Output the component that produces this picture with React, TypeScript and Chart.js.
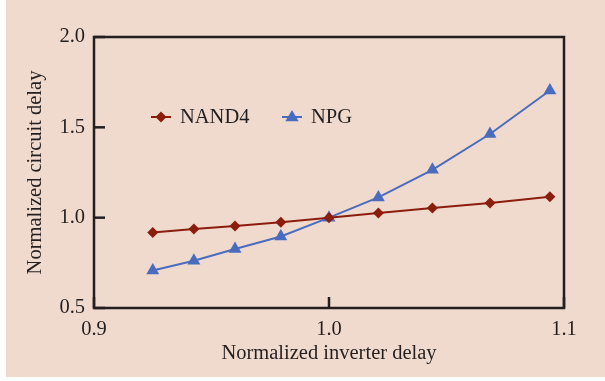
import React, { useEffect, useRef } from "react";
import { Chart, registerables } from "chart.js";

Chart.register(...registerables);

// Normalized inverter delay (x) for each simulated corner
const inverterDelay = [0.925, 0.9425, 0.96, 0.9795, 1.0, 1.021, 1.044, 1.0685, 1.094];
// Normalized circuit delay per gate style
const nand4Delay = [0.918, 0.937, 0.954, 0.974, 1.0, 1.026, 1.053, 1.081, 1.116];
const npgDelay = [0.708, 0.762, 0.827, 0.896, 1.0, 1.112, 1.265, 1.463, 1.704];

const xTicks = [0.9, 1.0, 1.1];
const yTicks = [0.5, 1.0, 1.5, 2.0];

const seriesNames = ["NAND4", "NPG"];
const NAND_COLOR = "#8b1d0d";
const NPG_COLOR = "#4a6cbf";
const INK = "#231f20";
const FONT = "'Liberation Serif', 'Times New Roman', serif";

// Diamond / triangle markers drawn by hand for the in-plot legend
function drawMarker(ctx: CanvasRenderingContext2D, style: string, x: number, y: number, color: string) {
  ctx.save();
  ctx.fillStyle = color;
  ctx.beginPath();
  if (style === "rectRot") {
    const r = 5.5;
    ctx.moveTo(x, y - r);
    ctx.lineTo(x + r, y);
    ctx.lineTo(x, y + r);
    ctx.lineTo(x - r, y);
  } else {
    const r = 7;
    ctx.moveTo(x, y - r);
    ctx.lineTo(x + r * 0.95, y + r * 0.6);
    ctx.lineTo(x - r * 0.95, y + r * 0.6);
  }
  ctx.closePath();
  ctx.fill();
  ctx.restore();
}

const framePlugin = {
  id: "frameAndLegend",
  afterDatasetsDraw(chart: any) {
    const { ctx, chartArea, scales } = chart;
    const { left, right, top, bottom } = chartArea;
    ctx.save();
    // inward tick marks
    ctx.strokeStyle = INK;
    ctx.lineWidth = 2.5;
    yTicks.forEach((v) => {
      const y = scales.y.getPixelForValue(v);
      ctx.beginPath();
      ctx.moveTo(left, y);
      ctx.lineTo(left + 11, y);
      ctx.stroke();
    });
    xTicks.forEach((v) => {
      const x = scales.x.getPixelForValue(v);
      ctx.beginPath();
      ctx.moveTo(x, bottom);
      ctx.lineTo(x, bottom - 11);
      ctx.stroke();
    });
    // box frame
    ctx.lineWidth = 2.5;
    ctx.strokeRect(left, top, right - left, bottom - top);

    // legend inside plot
    const items = [
      { name: seriesNames[0], color: NAND_COLOR, style: "rectRot", x: left + 67 },
      { name: seriesNames[1], color: NPG_COLOR, style: "triangle", x: left + 198 },
    ];
    const ly = top + 80;
    ctx.font = `20.5px ${FONT}`;
    ctx.textBaseline = "middle";
    ctx.textAlign = "left";
    items.forEach((it) => {
      ctx.strokeStyle = it.color;
      ctx.lineWidth = 2;
      ctx.beginPath();
      ctx.moveTo(it.x - 10, ly);
      ctx.lineTo(it.x + 10, ly);
      ctx.stroke();
      drawMarker(ctx, it.style, it.x, ly, it.color);
      ctx.fillStyle = INK;
      ctx.fillText(it.name, it.x + 19, ly + 1);
    });
    ctx.restore();
  },
};

export default function App() {
  const canvasRef = useRef<HTMLCanvasElement | null>(null);

  useEffect(() => {
    const canvas = canvasRef.current;
    if (!canvas) return;
    const chart = new Chart(canvas, {
      type: "line",
      data: {
        datasets: [
          {
            label: seriesNames[0],
            data: inverterDelay.map((x, i) => ({ x, y: nand4Delay[i] })),
            borderColor: NAND_COLOR,
            backgroundColor: NAND_COLOR,
            borderWidth: 2,
            pointStyle: "rectRot",
            pointRadius: 5.5,
            pointBorderWidth: 0,
            tension: 0,
          },
          {
            label: seriesNames[1],
            data: inverterDelay.map((x, i) => ({ x, y: npgDelay[i] })),
            borderColor: NPG_COLOR,
            backgroundColor: NPG_COLOR,
            borderWidth: 2,
            pointStyle: "triangle",
            pointRadius: 7.5,
            pointBorderWidth: 0,
            tension: 0,
          },
        ],
      },
      options: {
        responsive: false,
        animation: false,
        devicePixelRatio: 1,
        layout: { padding: { left: 0, top: 37, right: 41, bottom: 0 } },
        plugins: {
          legend: { display: false },
          tooltip: { enabled: false },
        },
        scales: {
          x: {
            type: "linear",
            min: xTicks[0],
            max: xTicks[xTicks.length - 1],
            afterBuildTicks: (scale: any) => {
              scale.ticks = xTicks.map((v) => ({ value: v }));
            },
            afterFit: (scale: any) => {
              scale.height = 73;
              scale.paddingLeft = 0;
              scale.paddingRight = 0;
            },
            grid: { display: false, drawTicks: false },
            border: { display: false },
            ticks: {
              padding: 9,
              color: INK,
              font: { family: FONT, size: 20.5 },
              callback: (v: any) => Number(v).toFixed(1),
            },
            title: {
              display: true,
              text: "Normalized inverter delay",
              color: INK,
              font: { family: FONT, size: 20.5 },
              padding: { top: 0, bottom: 15 },
            },
          },
          y: {
            type: "linear",
            min: yTicks[0],
            max: yTicks[yTicks.length - 1],
            afterBuildTicks: (scale: any) => {
              scale.ticks = yTicks.map((v) => ({ value: v }));
            },
            afterFit: (scale: any) => {
              scale.width = 94;
              scale.paddingTop = 0;
              scale.paddingBottom = 0;
            },
            grid: { display: false, drawTicks: false },
            border: { display: false },
            ticks: {
              padding: 9,
              color: INK,
              font: { family: FONT, size: 20.5 },
              callback: (v: any) => Number(v).toFixed(1),
            },
            title: {
              display: true,
              text: "Normalized circuit delay",
              color: INK,
              font: { family: FONT, size: 20.5 },
              padding: { top: 23, bottom: 0 },
            },
          },
        },
      },
      plugins: [framePlugin],
    } as any);
    return () => chart.destroy();
  }, []);

  return (
    <div style={{ position: "fixed", left: 0, top: 0, width: 605, height: 381, background: "#ffffff", overflow: "hidden" }}>
      <div style={{ position: "absolute", left: 6, top: 0, width: 599, height: 377, background: "#f0dace" }} />
      <canvas ref={canvasRef} width={605} height={381} style={{ position: "absolute", left: 0, top: 0, width: 605, height: 381 }} />
    </div>
  );
}
